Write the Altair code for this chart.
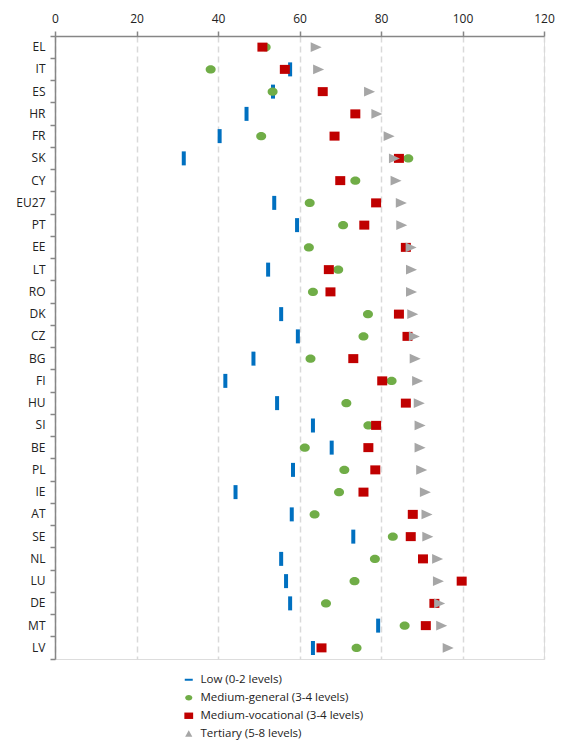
import altair as alt
import pandas as pd

countries = ["EL", "IT", "ES", "HR", "FR", "SK", "CY", "EU27", "PT", "EE", "LT", "RO", "DK", "CZ",
             "BG", "FI", "HU", "SI", "BE", "PL", "IE", "AT", "SE", "NL", "LU", "DE", "MT", "LV"]
low = [None, 57.7, 53.5, 47.0, 40.4, 31.6, None, 53.8, 59.4, None, 52.3, None, 55.5, 59.6,
       48.7, 41.8, 54.5, 63.3, 67.9, 58.4, 44.3, 58.1, 73.2, 55.5, 56.7, 57.7, 79.3, 63.3]
medium_general = [51.7, 38.2, 53.4, None, 50.6, 86.7, 73.7, 62.5, 70.7, 62.3, 69.5, 63.3, 76.8, 75.7,
                  62.7, 82.6, 71.5, 76.9, 61.3, 71.0, 69.7, 63.7, 82.9, 78.5, 73.5, 66.5, 85.8, 74.0]
medium_vocational = [50.9, 56.4, 65.7, 73.7, 68.6, 84.4, 70.0, 78.8, 75.9, 86.1, 67.2, 67.6, 84.4, 86.5,
                     73.2, 80.3, 86.1, 78.8, 76.9, 78.6, 75.7, 87.8, 87.3, 90.3, 99.8, 93.1, 91.0, 65.4]
tertiary = [63.9, 64.5, 77.0, 78.8, 81.8, 83.1, 83.5, 84.8, 84.9, 87.2, 87.3, 87.3, 87.6, 88.0,
            88.2, 88.8, 89.2, 89.4, 89.4, 89.8, 90.7, 91.1, 91.3, 93.7, 93.9, 94.2, 94.7, 96.3]

series_names = ["Low (0-2 levels)", "Medium-general (3-4 levels)",
                "Medium-vocational (3-4 levels)", "Tertiary (5-8 levels)"]
series_colors = ["#0070C0", "#70AD47", "#C00000", "#A6A6A6"]

rows = []
for name, vals in zip(series_names, [low, medium_general, medium_vocational, tertiary]):
    for c, v in zip(countries, vals):
        if v is not None:
            rows.append({"country": c, "value": v, "series": name})
df = pd.DataFrame(rows)

FONT = "Open Sans"
W, H = 489, 623

x_enc = alt.X("value:Q",
              scale=alt.Scale(domain=[0, 120], nice=False),
              axis=alt.Axis(orient="top", values=[0, 20, 40, 60, 80, 100, 120], title=None,
                            grid=True, gridDash=[6, 4], gridColor="#D9D9D9", gridWidth=1.5,
                            domainColor="#868686", domainWidth=1.5, tickColor="#868686",
                            tickSize=5, tickWidth=1.5, labelFont=FONT, labelFontSize=12,
                            labelColor="#222222", labelPadding=6, labelFlush=False))
y_enc = alt.Y("country:N", sort=countries,
              scale=alt.Scale(domain=countries, paddingInner=0, paddingOuter=0),
              axis=alt.Axis(title=None, grid=False, domainColor="#868686", domainWidth=1.5,
                            tickColor="#868686", tickSize=5, tickWidth=1.5, bandPosition=1,
                            tickExtra=True, labelFont=FONT, labelFontSize=12,
                            labelColor="#222222", labelPadding=5, minExtent=47))

base = alt.Chart(df)

low_layer = base.transform_filter(alt.datum.series == series_names[0]).mark_tick(
    color=series_colors[0], thickness=4, size=14, opacity=1
).encode(x=x_enc, y=y_enc)

ellipse = "M-1,0 A1,0.84 0 1,0 1,0 A1,0.84 0 1,0 -1,0 Z"
gen_layer = base.transform_filter(alt.datum.series == series_names[1]).mark_point(
    shape=ellipse, filled=True, color=series_colors[1], size=100, opacity=1
).encode(x=x_enc, y=y_enc)

square = "M-1,-0.9 H1 V0.9 H-1 Z"
voc_layer = base.transform_filter(alt.datum.series == series_names[2]).mark_point(
    shape=square, filled=True, color=series_colors[2], size=100, opacity=1
).encode(x=x_enc, y=y_enc)

tri = "M-0.9,-0.95 L1.2,0 L-0.9,0.95 Z"
ter_layer = base.transform_filter(alt.datum.series == series_names[3]).mark_point(
    shape=tri, filled=True, color=series_colors[3], size=110, opacity=1
).encode(x=x_enc, y=y_enc)

legend_shapes = ["M-1,-0.25 H1 V0.25 H-1 Z",
                 "M-0.9,0 A0.9,0.7 0 1,0 0.9,0 A0.9,0.7 0 1,0 -0.9,0 Z",
                 "M-1.1,-0.8 H1.1 V0.8 H-1.1 Z",
                 "M-0.9,0.75 L0,-0.85 L0.9,0.75 Z"]
leg = alt.Legend(title=None, orient="none", legendX=128, legendY=H + 15,
                 direction="vertical", labelFont=FONT, labelFontSize=11.5,
                 labelColor="#222222", symbolSize=64, rowPadding=5, labelLimit=400,
                 labelOffset=6, symbolStrokeWidth=0, padding=0)
legend_layer = base.transform_filter("false").mark_point(filled=True, opacity=1).encode(
    x=x_enc, y=y_enc,
    color=alt.Color("series:N", scale=alt.Scale(domain=series_names, range=series_colors), legend=leg),
    shape=alt.Shape("series:N", scale=alt.Scale(domain=series_names, range=legend_shapes), legend=leg),
)

chart = alt.layer(legend_layer, low_layer, gen_layer, voc_layer, ter_layer).properties(
    width=W, height=H, padding={"left": 0, "top": 4, "right": 0, "bottom": 0}
).configure_view(stroke=None).configure(background="white")

chart.save("out.html", embed_options={"renderer": "svg", "actions": False})
